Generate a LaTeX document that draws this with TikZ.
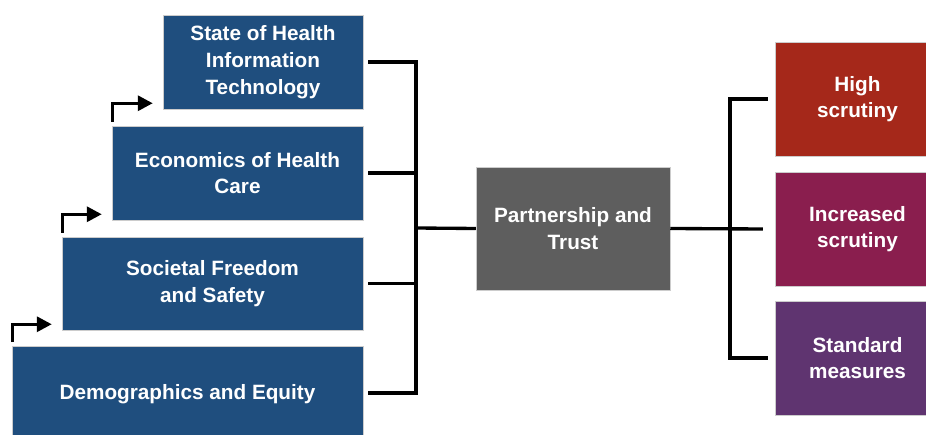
\documentclass[tikz,border=0pt]{standalone}
\usepackage{fontspec}
\setmainfont{Liberation Sans}
\usetikzlibrary{arrows.meta}

\definecolor{boxblue}{RGB}{31,78,126}
\definecolor{boxgray}{RGB}{94,94,94}
\definecolor{boxred}{RGB}{165,40,26}
\definecolor{boxwine}{RGB}{138,30,78}
\definecolor{boxplum}{RGB}{95,52,112}

\tikzset{
    block/.style={draw=black!20,line width=0.3pt,rectangle,text=white,align=center,
                  font=\fontsize{11.8}{15.2}\selectfont\bfseries,inner sep=0pt},
    conn/.style={draw,line width=1.9pt},
    stepup/.style={draw,line width=1.9pt,-{Triangle[length=0.3cm,width=0.3cm]}}
}

\begin{document}
\begin{tikzpicture}[x=0.02cm,y=-0.02cm]
    \useasboundingbox (0,0) rectangle (926,435);
    \node[block,fill=boxblue,minimum width=4cm,minimum height=1.88cm] (state) at (263,62)
        {State of Health\\Information\\Technology};
    \node[block,fill=boxblue,minimum width=5.02cm,minimum height=1.88cm] (econ) at (237.5,173)
        {Economics of Health\\Care};
    \node[block,fill=boxblue,minimum width=6.02cm,minimum height=1.86cm] (soc) at (212.5,283.5)
        {Societal Freedom\\and Safety};
    \node[block,fill=boxblue,minimum width=7.02cm,minimum height=1.9cm] (demo) at (187.5,394)
        {Demographics and Equity};
    \node[block,fill=boxgray,minimum width=3.88cm,minimum height=2.46cm] (trust) at (573,228.5)
        {Partnership and\\Trust};
    \node[block,fill=boxred,minimum width=3.3cm,minimum height=2.28cm] (high) at (857.5,99)
        {High\\scrutiny};
    \node[block,fill=boxwine,minimum width=3.3cm,minimum height=2.28cm] (incr) at (857.5,229)
        {Increased\\scrutiny};
    \node[block,fill=boxplum,minimum width=3.3cm,minimum height=2.28cm] (std) at (857.5,358)
        {Standard\\measures};
    \coordinate (jl) at (416,228);
    \coordinate (jr) at (730,228);
    % left bracket
    \draw[conn] ([xshift=0.1cm]state.east) -| (jl);
    \draw[conn] ([xshift=0.1cm]econ.east) -| (jl);
    \draw[conn] ([xshift=0.1cm]soc.east) -| (jl);
    \draw[conn] ([xshift=0.1cm]demo.east |- 0,393) -| (jl);
    \draw[conn] (jl) -- (trust.west);
    % right bracket
    \draw[conn] (trust.east) -- ([xshift=-0.24cm]incr.west);
    \draw[conn] ([xshift=-0.14cm]high.west) -| (jr);
    \draw[conn] ([xshift=-0.14cm]std.west) -| (jr);
    % steps
    \draw[stepup] ([xshift=0.02cm,yshift=0.08cm]demo.north west) |- ([xshift=-0.2cm,yshift=0.12cm]soc.south west);
    \draw[stepup] ([xshift=0.02cm,yshift=0.08cm]soc.north west) |- ([xshift=-0.2cm,yshift=0.12cm]econ.south west);
    \draw[stepup] ([xshift=0.02cm,yshift=0.08cm]econ.north west) |- ([xshift=-0.2cm,yshift=0.12cm]state.south west);
\end{tikzpicture}
\end{document}
